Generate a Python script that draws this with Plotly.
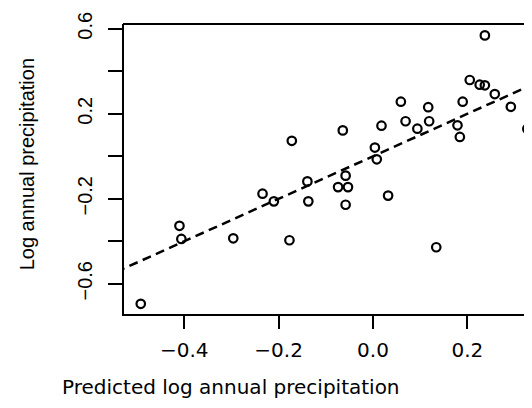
import plotly.graph_objects as go

# Observed data (predicted vs observed log annual precipitation)
predicted = [-0.410, -0.406, -0.296, -0.177, -0.172, -0.234, -0.210, -0.139, -0.137,
             -0.064, -0.058, -0.074, -0.053, -0.058, 0.004, 0.008, 0.018, 0.032,
             0.059, 0.069, 0.094, 0.117, 0.119, 0.134, 0.179, 0.184, 0.190, 0.205,
             0.226, 0.237, 0.258, 0.292, 0.327, 0.237, -0.492]
observed = [-0.327, -0.389, -0.386, -0.395, 0.073, -0.176, -0.212, -0.118, -0.212,
            0.122, -0.091, -0.145, -0.145, -0.228, 0.041, -0.014, 0.144, -0.185,
            0.257, 0.165, 0.130, 0.231, 0.165, -0.428, 0.146, 0.091, 0.257, 0.359,
            0.337, 0.334, 0.293, 0.233, 0.129, 0.569, -0.694]

# Reference line y = x
ref_x = [-0.6, 0.4]
ref_y = [-0.6, 0.4]

x_ticks = [-0.4, -0.2, 0.0, 0.2]
x_ticktext = ["\u22120.4", "\u22120.2", "0.0", "0.2"]
y_ticks = [-0.6, -0.4, -0.2, 0.0, 0.2, 0.4, 0.6]
y_ticktext = ["\u22120.6", "", "\u22120.2", "", "0.2", "", "0.6"]

x_title = "Predicted log annual precipitation"
y_title = "Log annual precipitation"

fig = go.Figure()
fig.add_trace(go.Scatter(
    x=ref_x, y=ref_y, mode="lines",
    line=dict(color="black", width=2.5, dash="9px,5.5px"),
    hoverinfo="skip", showlegend=False))
fig.add_trace(go.Scatter(
    x=predicted, y=observed, mode="markers",
    marker=dict(symbol="circle-open", size=8.5, color="black", line=dict(width=2.2, color="black")),
    showlegend=False))

fig.update_layout(
    width=532, height=408,
    margin=dict(l=116, r=0, t=16, b=102),
    paper_bgcolor="white", plot_bgcolor="white",
    xaxis=dict(range=[-0.5275, 0.3538], showgrid=False, zeroline=False,
               showline=True, linecolor="black", linewidth=2,
               ticks="outside", ticklen=13, tickwidth=2, tickcolor="black",
               tickvals=x_ticks, ticktext=x_ticktext, ticklabelstandoff=4,
               tickfont=dict(family="DejaVu Sans", size=20, color="black")),
    yaxis=dict(range=[-0.7421, 0.6226], showgrid=False, zeroline=False,
               showline=True, linecolor="black", linewidth=2,
               ticks="outside", ticklen=14, tickwidth=2, tickcolor="black",
               tickvals=y_ticks, ticktext=y_ticktext, tickangle=-90, ticklabelstandoff=8,
               tickfont=dict(family="Liberation Sans", size=20, color="black")),
    shapes=[dict(type="line", xref="paper", yref="paper", x0=-0.0024, x1=1, y0=1, y1=1,
                 line=dict(color="black", width=2))],
    annotations=[
        dict(text=x_title, xref="paper", yref="paper", x=0.2572, y=-0.25,
             xanchor="center", yanchor="middle", showarrow=False,
             font=dict(family="DejaVu Sans", size=20, color="black")),
        dict(text=y_title, xref="paper", yref="paper", x=-0.234, y=0.5148,
             xanchor="center", yanchor="middle", showarrow=False, textangle=-90,
             font=dict(family="Liberation Sans", size=20, color="black")),
    ],
)

fig.write_html("out.html")
